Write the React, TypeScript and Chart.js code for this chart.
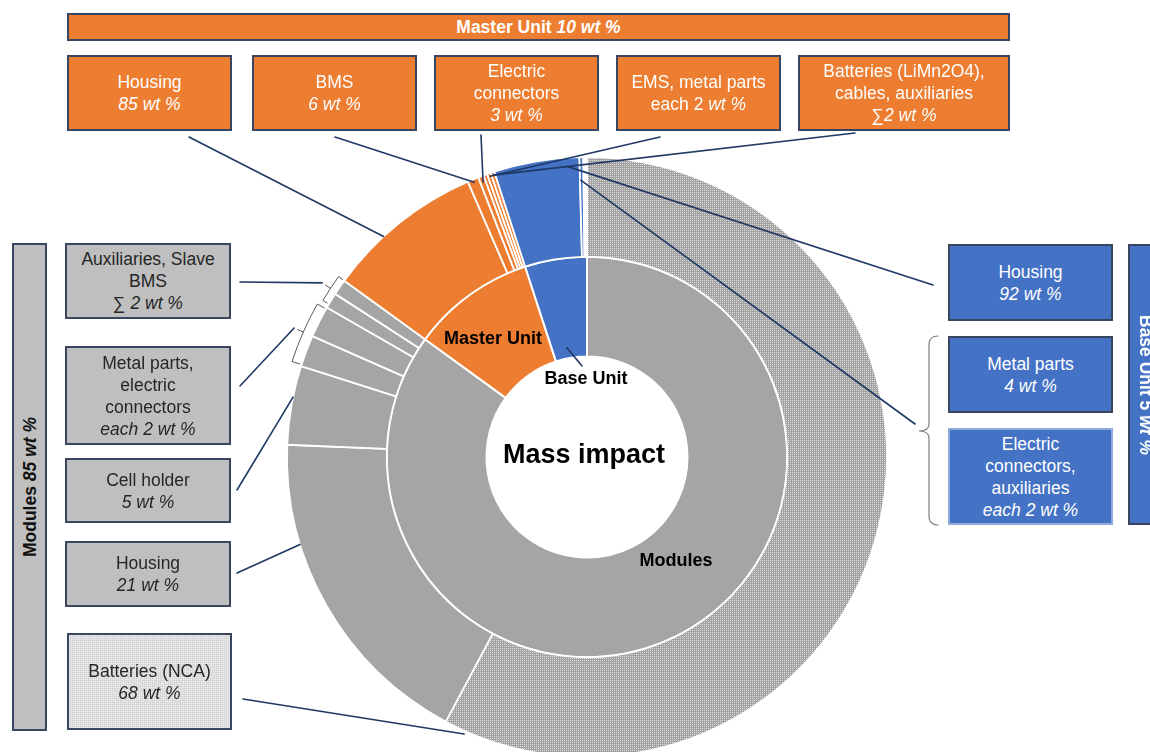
import React, { useEffect, useRef } from 'react';
import { Chart, registerables } from 'chart.js';

Chart.register(...registerables);

// ---------- data (wt %) ----------
const groupLabels = ['Modules', 'Master Unit', 'Base Unit'];
const groupShares = [85, 10, 5];

const moduleParts = ['Batteries (NCA)', 'Housing', 'Cell holder', 'Metal parts', 'Electric connectors', 'Auxiliaries', 'Slave BMS'];
const moduleShares = [68, 21, 5, 2, 2, 1, 1];

const masterParts = ['Housing', 'BMS', 'Electric connectors', 'EMS', 'Metal parts', 'Batteries (LiMn2O4), cables, auxiliaries'];
const masterShares = [85, 6, 3, 2, 2, 2];

const baseParts = ['Housing', 'Metal parts', 'Electric connectors', 'Auxiliaries'];
const baseShares = [92, 4, 2, 2];

// ---------- styles ----------
const ORANGE = '#ED7D31';
const BLUE = '#4472C4';
const GRAY = '#A5A5A5';
const BOXGRAY = '#BFBFBF';
const EDGE = '#3A4660';
const LINE = '#1F3864';
const FONT = '"Liberation Sans", Arial, sans-serif';

// leader lines: box anchor -> point on an arc (dataset, index, fraction along arc, radius factor of outer radius)
const leaders = [
  { from: [189, 137], ds: 0, idx: 7, frac: 0.37, rf: 1.0 },
  { from: [335, 137], ds: 0, idx: 8, frac: 0.5, rf: 0.99 },
  { from: [481, 135], ds: 0, idx: 9, frac: 0.5, rf: 0.98 },
  { from: [660, 137], ds: 0, idx: 11, frac: 0.6, rf: 0.99 },
  { from: [855, 133], ds: 0, idx: 12, frac: 0.5, rf: 0.99 },
  { from: [933, 285], ds: 0, idx: 13, frac: 0.86, rf: 0.97 },
  { from: [915, 424], ds: 0, idx: 14, frac: 0.2, rf: 0.923 },
  { from: [582, 366], ds: 1, idx: 2, frac: 0.42, rf: 0.37 },
  { from: [237, 490], ds: 0, idx: 2, frac: 0.6, rf: 1.0 },
  { from: [237, 573], ds: 0, idx: 1, frac: 0.7, rf: 1.0 },
  { from: [243, 699], ds: 0, idx: 0, frac: 0.98, rf: 1.01 },
];
// small brackets along the outer edge, with their own leader
const brackets = [
  { i0: 5, f0: 0.25, i1: 6, f1: 1.0, off: 7, from: [240, 282] },
  { i0: 3, f0: 0.05, i1: 4, f1: 0.95, off: 10, from: [240, 386] },
];

function makePattern(ctx: CanvasRenderingContext2D, base: string, dot: string) {
  const p = document.createElement('canvas');
  p.width = 2;
  p.height = 2;
  const g = p.getContext('2d')!;
  g.fillStyle = base;
  g.fillRect(0, 0, 2, 2);
  g.fillStyle = dot;
  g.fillRect(0, 0, 1, 1);
  return ctx.createPattern(p, 'repeat')!;
}

const leaderPlugin = {
  id: 'leaders',
  afterDatasetsDraw(chart: any) {
    const ctx: CanvasRenderingContext2D = chart.ctx;
    const outer = chart.getDatasetMeta(0).data[0];
    const R0 = outer.outerRadius;
    const cx = outer.x;
    const cy = outer.y;
    const ang = (ds: number, idx: number, frac: number) => {
      const a = chart.getDatasetMeta(ds).data[idx];
      return a.startAngle + (a.endAngle - a.startAngle) * frac;
    };
    const P = (a: number, r: number): [number, number] => [cx + Math.cos(a) * r, cy + Math.sin(a) * r];
    ctx.save();
    ctx.strokeStyle = LINE;
    ctx.lineWidth = 1.6;
    ctx.lineCap = 'round';
    for (const l of leaders) {
      const [x, y] = P(ang(l.ds, l.idx, l.frac), R0 * l.rf);
      ctx.beginPath();
      ctx.moveTo(l.from[0], l.from[1]);
      ctx.lineTo(x, y);
      ctx.stroke();
    }
    for (const b of brackets) {
      const a0 = ang(0, b.i0, b.f0);
      const a1 = ang(0, b.i1, b.f1);
      const am = (a0 + a1) / 2;
      const R = R0 + b.off;
      ctx.strokeStyle = '#595959';
      ctx.lineWidth = 1;
      ctx.beginPath();
      let p = P(a0, R0 + 2);
      ctx.moveTo(p[0], p[1]);
      p = P(a0, R);
      ctx.lineTo(p[0], p[1]);
      ctx.arc(cx, cy, R, a0, a1);
      p = P(a1, R0 + 2);
      ctx.lineTo(p[0], p[1]);
      ctx.moveTo(...P(am, R));
      ctx.lineTo(...P(am, R + 6));
      ctx.stroke();
      ctx.strokeStyle = LINE;
      ctx.lineWidth = 1.6;
      const t = P(am, R + 10);
      ctx.beginPath();
      ctx.moveTo(b.from[0], b.from[1]);
      ctx.lineTo(t[0], t[1]);
      ctx.stroke();
    }
    // right curly bracket
    ctx.strokeStyle = '#7F7F7F';
    ctx.lineWidth = 1.2;
    ctx.beginPath();
    ctx.moveTo(938, 336);
    ctx.quadraticCurveTo(929, 336, 929, 345);
    ctx.lineTo(929, 424);
    ctx.quadraticCurveTo(929, 431, 919, 431);
    ctx.quadraticCurveTo(929, 431, 929, 438);
    ctx.lineTo(929, 516);
    ctx.quadraticCurveTo(929, 525, 938, 525);
    ctx.stroke();
    ctx.restore();
  },
};

type BoxProps = {
  x: number; y: number; w: number; h: number;
  bg?: string; color?: string; border?: string; style?: React.CSSProperties;
  children?: React.ReactNode;
};
function Box({ x, y, w, h, bg, color, border, style, children }: BoxProps) {
  return (
    <div
      style={{
        position: 'absolute', left: x, top: y, width: w, height: h, boxSizing: 'border-box',
        background: bg, color, border: `2px solid ${border || EDGE}`,
        display: 'flex', flexDirection: 'column', alignItems: 'center', justifyContent: 'center',
        textAlign: 'center', fontSize: 17.5, lineHeight: '22px', fontFamily: FONT, ...style,
      }}
    >
      {children}
    </div>
  );
}

function Label({ x, y, size, children }: { x: number; y: number; size: number; children: React.ReactNode }) {
  return (
    <div
      style={{
        position: 'absolute', left: x, top: y, transform: 'translate(-50%, -50%)', whiteSpace: 'nowrap',
        fontWeight: 'bold', fontSize: size, fontFamily: FONT, color: '#000', lineHeight: 1,
      }}
    >
      {children}
    </div>
  );
}

const I = ({ children }: { children: React.ReactNode }) => <i>{children}</i>;

export default function App() {
  const ref = useRef<HTMLCanvasElement>(null);
  useEffect(() => {
    const canvas = ref.current!;
    const ctx = canvas.getContext('2d')!;
    const pat = makePattern(ctx, '#a2a2a2', '#dedede');
    const outerData = [
      ...moduleShares.map((v) => (v * groupShares[0]) / 100),
      ...masterShares.map((v) => (v * groupShares[1]) / 100),
      ...baseShares.map((v) => (v * groupShares[2]) / 100),
    ];
    const outerColors: any[] = [
      pat,
      ...moduleShares.slice(1).map(() => GRAY),
      ...masterShares.map(() => ORANGE),
      ...baseShares.map(() => BLUE),
    ];
    const chart = new Chart(canvas, {
      type: 'doughnut',
      data: {
        labels: [...moduleParts, ...masterParts, ...baseParts],
        datasets: [
          { label: 'Components', data: outerData, backgroundColor: outerColors, borderColor: '#ffffff', borderWidth: 1.8, clip: false } as any,
          { label: groupLabels.join(' / '), data: groupShares, backgroundColor: [GRAY, ORANGE, BLUE], borderColor: '#ffffff', borderWidth: 2, clip: false } as any,
        ],
      },
      options: {
        responsive: false,
        animation: false,
        radius: 300,
        cutout: '33.5%',
        events: [],
        layout: { padding: { left: 24, top: 162, right: 0, bottom: 0 } },
        plugins: { legend: { display: false }, tooltip: { enabled: false } },
      } as any,
      plugins: [leaderPlugin],
    });
    return () => chart.destroy();
  }, []);

  const W = '#ffffff';
  const D = '#262626';
  return (
    <div style={{ position: 'fixed', left: 0, top: 0, width: 1150, height: 752, overflow: 'hidden', background: '#fff', fontFamily: FONT }}>
      <canvas ref={ref} width={1150} height={752} style={{ position: 'absolute', left: 0, top: 0 }} />

      {/* Master unit banner and boxes */}
      <Box x={67} y={13} w={943} h={28} bg={ORANGE} color={W} style={{ fontWeight: 'bold', fontSize: 17.5 }}>
        <span>Master Unit <I>{groupShares[1]} wt %</I></span>
      </Box>
      <Box x={67} y={55} w={165} h={76} bg={ORANGE} color={W}>
        <div>Housing</div><div><I>{masterShares[0]} wt %</I></div>
      </Box>
      <Box x={252} y={55} w={165} h={76} bg={ORANGE} color={W}>
        <div>BMS</div><div><I>{masterShares[1]} wt %</I></div>
      </Box>
      <Box x={434} y={55} w={165} h={76} bg={ORANGE} color={W}>
        <div>Electric</div><div>connectors</div><div><I>{masterShares[2]} wt %</I></div>
      </Box>
      <Box x={616} y={55} w={165} h={76} bg={ORANGE} color={W}>
        <div>EMS, metal parts</div><div>each {masterShares[3]} <I>wt %</I></div>
      </Box>
      <Box x={798} y={55} w={212} h={76} bg={ORANGE} color={W}>
        <div>Batteries (LiMn2O4),</div><div>cables, auxiliaries</div><div>∑<I>{masterShares[5]} wt %</I></div>
      </Box>

      {/* Modules banner and boxes */}
      <Box x={12} y={243} w={35} h={488} bg={BOXGRAY} color={D} style={{ display: 'block' }}>
        <span style={{ position: 'absolute', left: '50%', top: '50%', transform: 'translate(-50%, -50%) rotate(-90deg)', whiteSpace: 'nowrap', fontWeight: 'bold', fontSize: 17.5, color: '#111' }}>
          Modules <I>{groupShares[0]} wt %</I>
        </span>
      </Box>
      <Box x={65} y={243} w={166} h={76} bg={BOXGRAY} color={D}>
        <div>Auxiliaries, Slave</div><div>BMS</div><div>∑ <I>2 wt %</I></div>
      </Box>
      <Box x={65} y={346} w={166} h={99} bg={BOXGRAY} color={D}>
        <div>Metal parts,</div><div>electric</div><div>connectors</div><div><I>each {moduleShares[3]} wt %</I></div>
      </Box>
      <Box x={65} y={458} w={166} h={65} bg={BOXGRAY} color={D}>
        <div>Cell holder</div><div><I>{moduleShares[2]} wt %</I></div>
      </Box>
      <Box x={65} y={541} w={166} h={66} bg={BOXGRAY} color={D}>
        <div>Housing</div><div><I>{moduleShares[1]} wt %</I></div>
      </Box>
      <Box x={67} y={633} w={165} h={97} color={D}
        style={{ backgroundColor: '#d8d8d8', backgroundImage: 'radial-gradient(circle at 0.5px 0.5px, #f0f0f0 0.6px, transparent 0.7px)', backgroundSize: '2px 2px' }}>
        <div>Batteries (NCA)</div><div><I>{moduleShares[0]} wt %</I></div>
      </Box>

      {/* Base unit boxes and banner */}
      <Box x={948} y={244} w={165} h={77} bg={BLUE} color={W}>
        <div>Housing</div><div><I>{baseShares[0]} wt %</I></div>
      </Box>
      <Box x={948} y={336} w={165} h={77} bg={BLUE} color={W}>
        <div>Metal parts</div><div><I>{baseShares[1]} wt %</I></div>
      </Box>
      <Box x={948} y={428} w={165} h={97} bg={BLUE} color={W} border="#8FAADC">
        <div>Electric</div><div>connectors,</div><div>auxiliaries</div><div><I>each {baseShares[2]} wt %</I></div>
      </Box>
      <Box x={1128} y={244} w={35} h={281} bg={BLUE} color={W} style={{ display: 'block' }}>
        <span style={{ position: 'absolute', left: '50%', top: '50%', transform: 'translate(-50%, -50%) rotate(90deg)', whiteSpace: 'nowrap', fontWeight: 'bold', fontSize: 17.5 }}>
          Base Unit {groupShares[2]} <I>wt %</I>
        </span>
      </Box>

      {/* in-chart labels */}
      <Label x={493} y={338} size={18}>Master Unit</Label>
      <Label x={586} y={378} size={18}>Base Unit</Label>
      <Label x={676} y={560} size={18}>Modules</Label>
      <Label x={584} y={454} size={27}>Mass impact</Label>
    </div>
  );
}
